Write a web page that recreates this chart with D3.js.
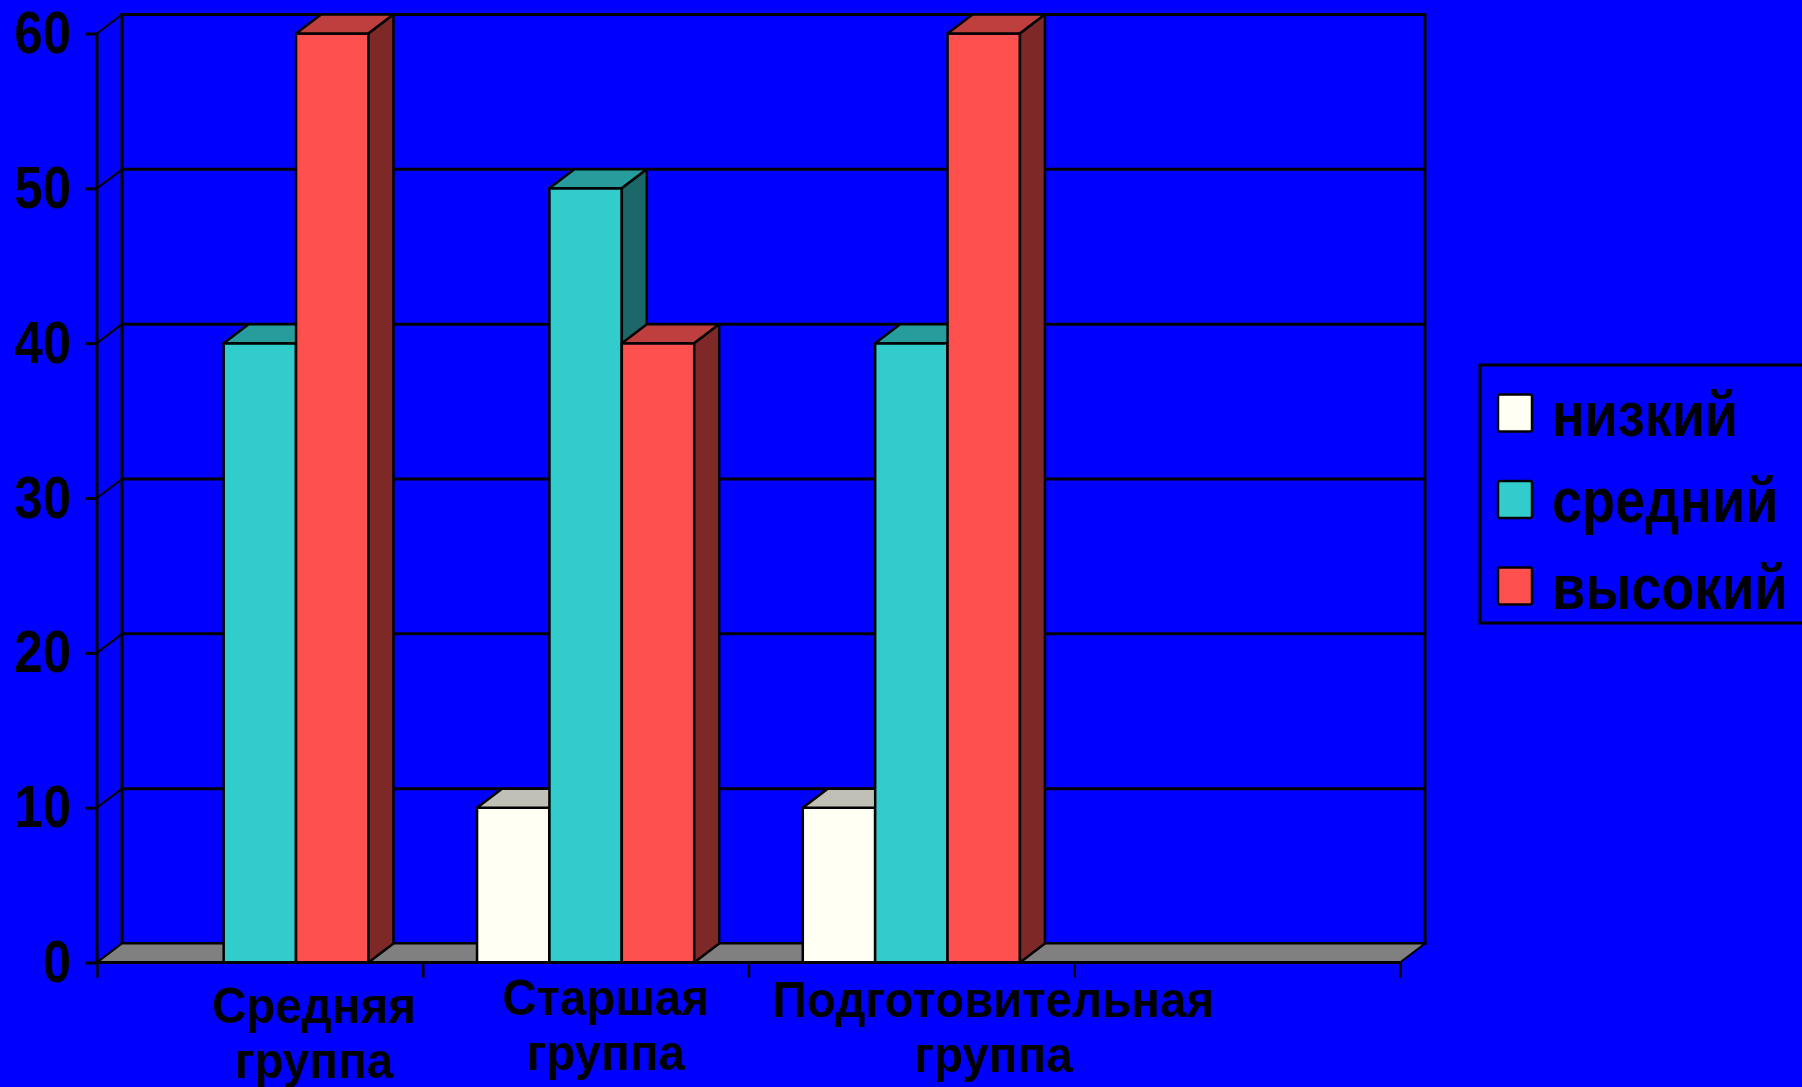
<!DOCTYPE html>
<html>
<head>
<meta charset="utf-8">
<script src="https://cdn.jsdelivr.net/npm/d3@7"></script>
<style>
  html, body { margin: 0; padding: 0; background: #0000ff; }
  svg { display: block; }
  text { font-family: "Liberation Sans", Arial, sans-serif; font-weight: bold; fill: #000; }
</style>
</head>
<body>
<svg id="chart"></svg>
<script>
// data
const categories = ["Средняя группа", "Старшая группа", "Подготовительная группа", ""];
const series = ["низкий", "средний", "высокий"];
const lowValues = [0, 10, 10];
const midValues = [40, 50, 40];
const highValues = [60, 40, 60];
const yTicks = [0, 10, 20, 30, 40, 50, 60];

const values = [lowValues, midValues, highValues];

const width = 1802, height = 1087;
const svg = d3.select("#chart").attr("width", width).attr("height", height);

// 3d look: depth offset of the back plane
const DX = 25, DY = -19;

const colors = {
  "низкий":  { front: "#fffff4", top: "#c0c0b6", side: "#7f7f78" },
  "средний": { front: "#33cccc", top: "#279c9c", side: "#1c6868" },
  "высокий": { front: "#ff5050", top: "#bf3e3e", side: "#7f2828" }
};

const x = d3.scaleBand().domain(categories).range([97, 1400]).paddingInner(0).paddingOuter(0);
const xEdge = d3.scaleLinear().domain([0, categories.length]).range(x.range());
const inner = d3.scaleBand().domain(series).range([0, x.bandwidth()]).paddingInner(0).paddingOuter(0.75);
const y = d3.scaleLinear().domain([0, 60]).range([962.5, 33.5]);

const x0 = x.range()[0], x1 = x.range()[1];

// back wall
svg.append("rect")
  .attr("x", x0 + DX).attr("y", y(60) + DY)
  .attr("width", x1 - x0).attr("height", y(0) - y(60))
  .attr("fill", "#0000ff").attr("stroke", "#000").attr("stroke-width", 3);

// gridlines on the back wall and the left wall
const grid = svg.append("g").attr("stroke", "#000").attr("stroke-width", 3);
grid.selectAll(".gh").data(yTicks.filter(d => d > 0)).join("line")
  .attr("x1", x0 + DX).attr("x2", x1 + DX)
  .attr("y1", d => y(d) + DY).attr("y2", d => y(d) + DY);
grid.selectAll(".gd").data(yTicks).join("line")
  .attr("stroke-width", 2)
  .attr("x1", x0).attr("x2", x0 + DX)
  .attr("y1", d => y(d)).attr("y2", d => y(d) + DY);

// floor
svg.append("polygon")
  .attr("points", [[x0, y(0)], [x1, y(0)], [x1 + DX, y(0) + DY], [x0 + DX, y(0) + DY]].join(" "))
  .attr("fill", "#808080").attr("stroke", "#000").attr("stroke-width", 2);

// bars
const barData = [];
categories.forEach((c, i) => {
  series.forEach((s, j) => {
    const v = values[j][i];
    if (v !== undefined && v > 0) barData.push({ c, s, v });
  });
});

const bars = svg.append("g").selectAll("g").data(barData).join("g")
  .attr("stroke", "#000").attr("stroke-width", 2.5).attr("stroke-linejoin", "round");

bars.each(function (d) {
  const g = d3.select(this);
  const bx = x(d.c) + inner(d.s), bw = inner.bandwidth();
  const yt = y(d.v), yb = y(0);
  g.append("rect").attr("x", bx).attr("y", yt).attr("width", bw).attr("height", yb - yt)
    .attr("fill", colors[d.s].front);
  g.append("polygon")
    .attr("points", [[bx, yt], [bx + bw, yt], [bx + bw + DX, yt + DY], [bx + DX, yt + DY]].join(" "))
    .attr("fill", colors[d.s].top);
  g.append("polygon")
    .attr("points", [[bx + bw, yt], [bx + bw + DX, yt + DY], [bx + bw + DX, yb + DY], [bx + bw, yb]].join(" "))
    .attr("fill", colors[d.s].side);
});

// value axis
const yAxis = svg.append("g").attr("transform", `translate(${x0},0)`)
  .call(d3.axisLeft(y).tickValues(yTicks).tickSize(12).tickPadding(0));
yAxis.select(".domain").attr("stroke", "#000").attr("stroke-width", 3).attr("d", `M0,${y(0)}V${y(60)}`);
yAxis.selectAll(".tick line").attr("stroke", "#000").attr("stroke-width", 3);
yAxis.selectAll(".tick text")
  .attr("x", null).attr("dy", null)
  .attr("transform", "translate(-26,19) scale(1,1.17)")
  .style("font-size", "51px")
  .style("font-family", "'Liberation Sans', Arial, sans-serif")
  .style("font-weight", "bold")
  .attr("fill", "#000");

// category axis: ticks between the categories
const xAxis = svg.append("g").attr("transform", `translate(0,${y(0)})`)
  .call(d3.axisBottom(xEdge).tickValues(d3.range(categories.length + 1)).tickSize(15).tickFormat(""));
xAxis.select(".domain").attr("stroke", "#000").attr("stroke-width", 3).attr("d", `M${x0},0H${x1}`);
xAxis.selectAll(".tick line").attr("stroke", "#000").attr("stroke-width", 2.5);

// category labels (two lines each, Excel places them a little right of the slot centre)
const labelNudge = [54, 20, 82];
const labelDrop = [8, 0, 2];
svg.append("g").selectAll("g").data(categories.filter(c => c)).join("g")
  .attr("transform", (c, i) => `translate(${x(c) + x.bandwidth() / 2 + labelNudge[i]},${1015 + labelDrop[i]}) scale(1,1.06)`)
  .each(function (c) {
    const t = d3.select(this).append("text").attr("text-anchor", "middle").style("font-size", "47.5px");
    c.split(" ").forEach((w, k) => t.append("tspan").attr("x", 0).attr("y", k * 52).text(w));
  });

// legend
const legend = svg.append("g").attr("transform", "translate(1480,365)");
legend.append("rect").attr("width", 420).attr("height", 258)
  .attr("fill", "#0000ff").attr("stroke", "#000").attr("stroke-width", 3);
const item = legend.selectAll(".item").data(series).join("g")
  .attr("transform", (d, i) => `translate(18,${48 + i * 86.5})`);
item.append("rect").attr("x", 0).attr("y", -18.5).attr("width", 34).attr("height", 37)
  .attr("rx", 2)
  .attr("fill", d => colors[d].front).attr("stroke", "#000").attr("stroke-width", 2.5);
item.append("text")
  .attr("transform", "translate(54,22.5) scale(1,1.15)")
  .style("font-size", "54px")
  .text(d => d);
</script>
</body>
</html>
